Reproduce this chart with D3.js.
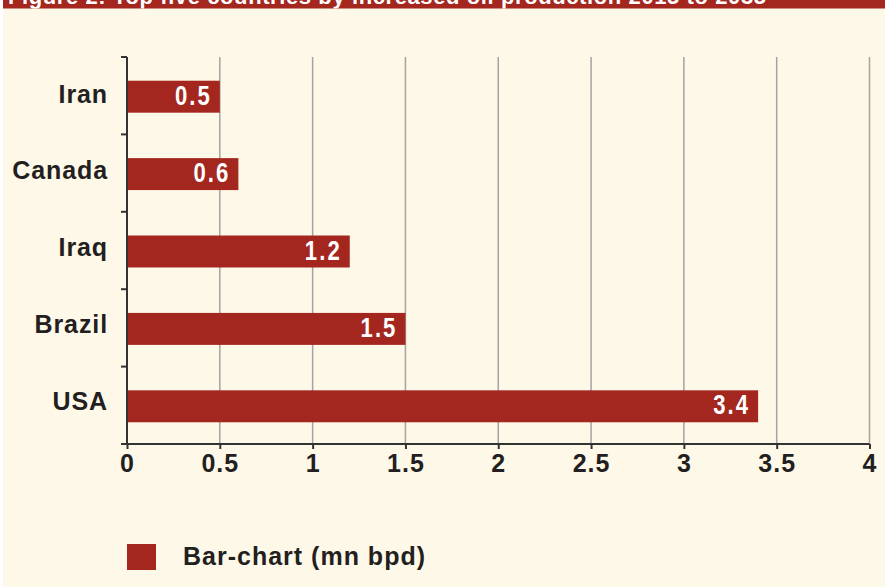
<!DOCTYPE html>
<html>
<head>
<meta charset="utf-8">
<script src="https://cdn.jsdelivr.net/npm/d3@7"></script>
<style>
  html, body { margin: 0; padding: 0; background: #ffffff; }
  svg { display: block; }
  text { font-family: "Liberation Sans", Arial, sans-serif; }
</style>
</head>
<body>
<svg id="chart" width="885" height="587"></svg>
<script>
// Top five countries by increased oil production
const countries = ['Iran', 'Canada', 'Iraq', 'Brazil', 'USA'];
const increase = [0.5, 0.6, 1.2, 1.5, 3.4];
const xTicks = [0, 0.5, 1, 1.5, 2, 2.5, 3, 3.5, 4];
const titleText = 'Figure 2: Top five countries by increased oil production 2015 to 2035';
const legendLabel = 'Bar-chart (mn bpd)';

const red = '#a3271f';
const cream = '#fef8e9';
const ink = '#231f20';

const svg = d3.select('#chart');

// panel background
svg.append('rect')
    .attr('x', 3).attr('y', 0)
    .attr('width', 882).attr('height', 587)
    .attr('fill', cream);

// title band (clipped at the top edge)
svg.append('clipPath').attr('id', 'titleClip')
    .append('rect').attr('x', 3).attr('y', 0).attr('width', 882).attr('height', 8.5);
svg.append('rect')
    .attr('x', 3).attr('y', 0)
    .attr('width', 882).attr('height', 8.5)
    .attr('fill', red);
svg.append('text')
    .attr('clip-path', 'url(#titleClip)')
    .attr('x', 8).attr('y', 4)
    .attr('fill', '#fff')
    .attr('font-size', 22)
    .attr('font-weight', 'bold')
    .attr('letter-spacing', 0.6)
    .text(titleText);

const plotTop = 57, plotBottom = 444;

const x = d3.scaleLinear().domain([0, 4]).range([127, 869.5]);
const y = d3.scaleBand()
    .domain(countries)
    .range([plotTop + 1, plotBottom + 1])
    .paddingInner(0.587)
    .paddingOuter(0.2935);
// category labels sit a little above the bar centres in the original
const yLabel = d3.scalePoint()
    .domain(countries)
    .range([93.8, 400.5]);

// gridlines
svg.append('g')
    .selectAll('line')
    .data(xTicks.filter(d => d > 0))
    .join('line')
    .attr('x1', d => x(d)).attr('x2', d => x(d))
    .attr('y1', plotTop).attr('y2', plotBottom)
    .attr('stroke', '#a3a3a3')
    .attr('stroke-width', 1.5);

// bars
svg.append('g')
    .selectAll('rect')
    .data(countries)
    .join('rect')
    .attr('x', x(0))
    .attr('y', d => y(d))
    .attr('width', (d, i) => x(increase[i]) - x(0))
    .attr('height', y.bandwidth())
    .attr('fill', red);

// value labels inside bars (narrowed to mimic a condensed face)
svg.append('g')
    .selectAll('text')
    .data(countries)
    .join('text')
    .attr('transform', (d, i) =>
        `translate(${x(increase[i]) - 8},${y(d) + y.bandwidth() / 2}) scale(0.82,1)`)
    .attr('dy', '0.3em')
    .attr('text-anchor', 'end')
    .attr('fill', '#fff')
    .attr('font-size', 27)
    .attr('font-weight', 'bold')
    .attr('letter-spacing', 2.5)
    .text((d, i) => increase[i]);

// y axis: line plus ticks at band boundaries
const yAxis = svg.append('g');
yAxis.append('line')
    .attr('x1', x(0)).attr('x2', x(0))
    .attr('y1', plotTop).attr('y2', plotBottom)
    .attr('stroke', '#333').attr('stroke-width', 2);
yAxis.selectAll('.ytick')
    .data(countries)
    .join('line')
    .attr('class', 'ytick')
    .attr('x1', x(0) - 6).attr('x2', x(0))
    .attr('y1', d => y(d) - 1 - y.step() * y.paddingInner() / 2)
    .attr('y2', d => y(d) - 1 - y.step() * y.paddingInner() / 2)
    .attr('stroke', '#333').attr('stroke-width', 2);

yAxis.selectAll('.ylabel')
    .data(countries)
    .join('text')
    .attr('class', 'ylabel')
    .attr('x', 108)
    .attr('y', d => yLabel(d))
    .attr('dy', '0.36em')
    .attr('text-anchor', 'end')
    .attr('fill', ink)
    .attr('font-size', 25)
    .attr('font-weight', 'bold')
    .attr('letter-spacing', 0.9)
    .text(d => d);

// x axis
const xAxis = svg.append('g')
    .attr('transform', `translate(0,${plotBottom})`)
    .call(d3.axisBottom(x).tickValues(xTicks).tickFormat(d3.format('')).tickSize(5).tickPadding(5));
xAxis.select('.domain')
    .attr('d', `M${x(0) - 6},0H${x(4)}`)
    .attr('stroke', '#333').attr('stroke-width', 2);
xAxis.selectAll('.tick line').attr('stroke', '#333').attr('stroke-width', 2);
xAxis.selectAll('.tick text')
    .attr('fill', ink)
    .attr('font-size', 25)
    .attr('font-weight', 'bold')
    .attr('letter-spacing', 1)
    .style('font-family', '"Liberation Sans", Arial, sans-serif');

// legend
svg.append('rect')
    .attr('x', 127).attr('y', 544)
    .attr('width', 29).attr('height', 26)
    .attr('fill', red);
svg.append('text')
    .attr('x', 183).attr('y', 565)
    .attr('fill', ink)
    .attr('font-size', 25)
    .attr('font-weight', 'bold')
    .attr('letter-spacing', 1)
    .text(legendLabel);
</script>
</body>
</html>
